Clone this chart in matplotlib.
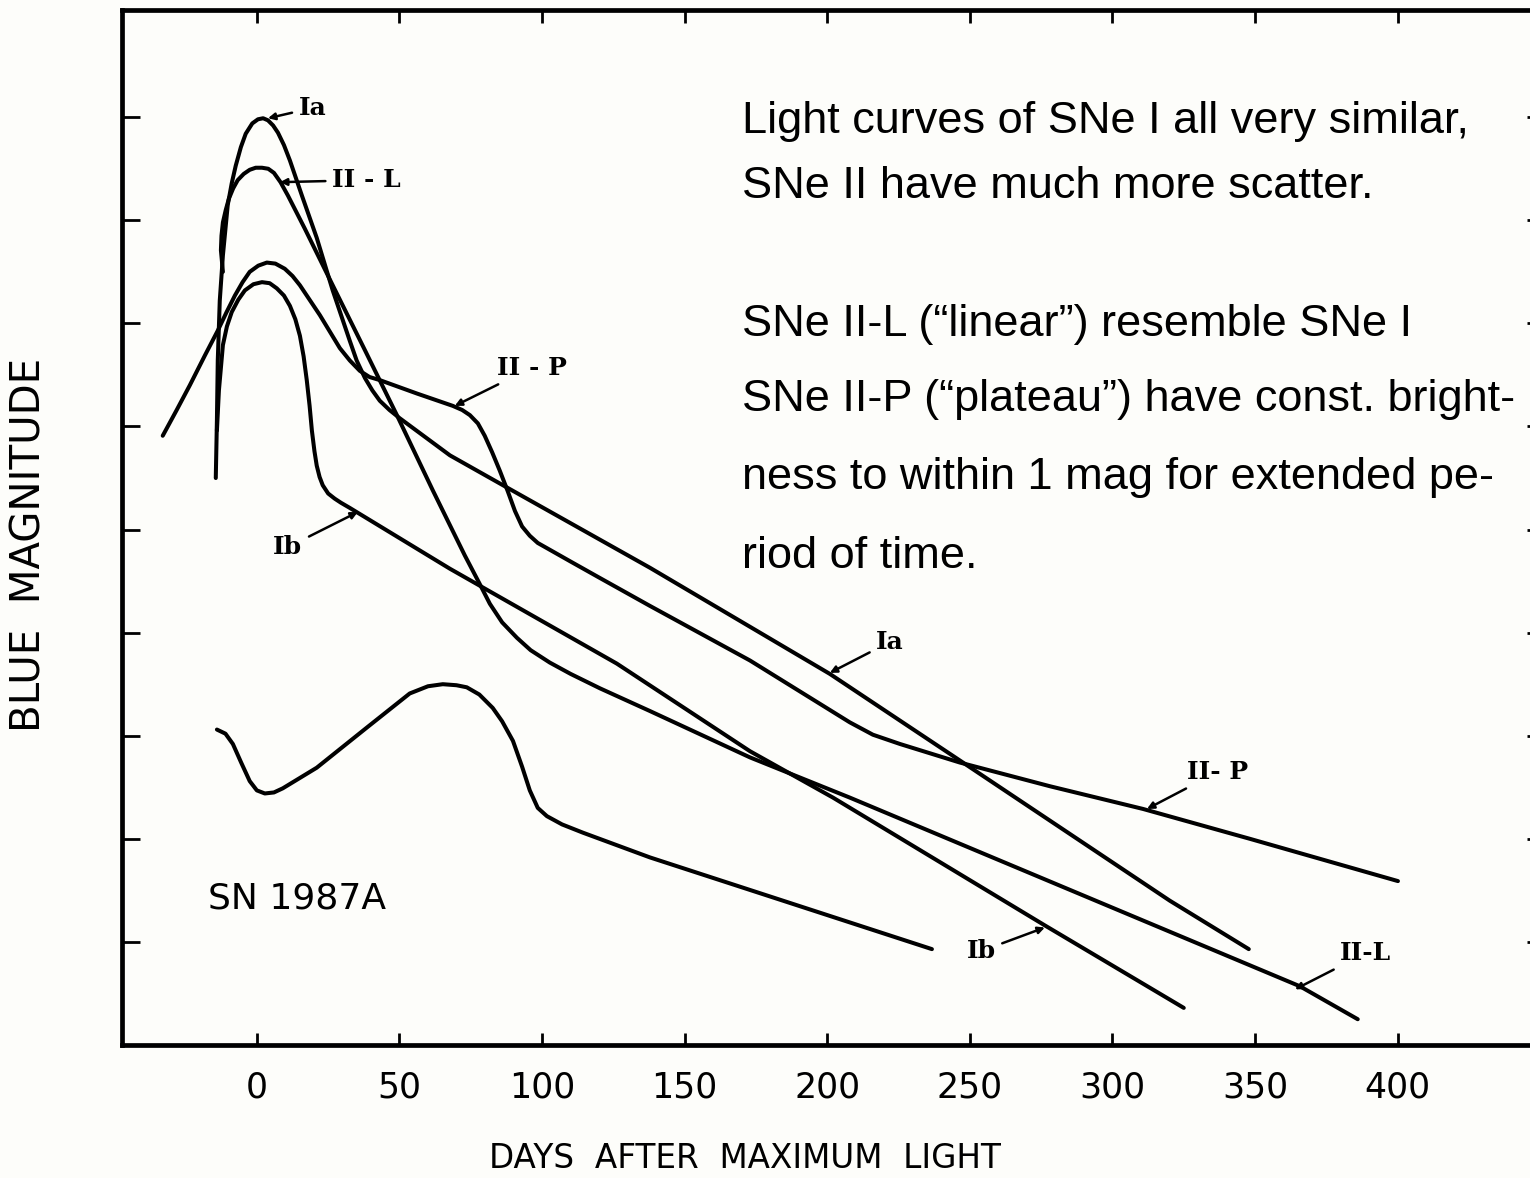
import matplotlib
matplotlib.use('Agg')
import matplotlib.pyplot as plt

# light curves: days after max, relative blue magnitude
ia_days = [-14.4, -14.0, -13.7, -13.0, -11.9, -10.2, -8.8, -7.4, -5.6, -3.9, -1.6, 0.4, 2.2,
           3.9, 5.7, 7.4, 9.5, 11.6, 15.8, 21.0, 26.6, 32.6, 35.0, 37.9, 40.5, 43.1, 46.5,
           50.1, 67.7, 86.3, 137.8, 200.9, 246.5, 320.1, 347.8]
ia_mag = [3.50, 2.94, 2.36, 1.78, 1.34, 0.85, 0.64, 0.47, 0.29, 0.16, 0.06, 0.02, 0.01,
          0.03, 0.08, 0.15, 0.27, 0.42, 0.76, 1.17, 1.68, 2.17, 2.36, 2.53, 2.65, 2.75, 2.84,
          2.92, 3.28, 3.57, 4.37, 5.40, 6.24, 7.60, 8.07]

ib_days = [-14.0, -13.3, -11.9, -10.5, -8.8, -6.5, -4.2, -1.2, 1.8, 4.5, 7.0, 9.5, 11.6,
           13.5, 15.1, 16.4, 17.5, 18.5, 19.3, 20.2, 21.0, 22.0, 23.1, 25.0, 27.3, 29.5,
           32.6, 67.7, 126.2, 172.9, 202.0, 276.3, 325.0]
ib_mag = [3.04, 2.65, 2.21, 2.03, 1.89, 1.77, 1.68, 1.62, 1.60, 1.61, 1.66, 1.73, 1.83,
          1.96, 2.12, 2.32, 2.55, 2.80, 3.04, 3.24, 3.38, 3.49, 3.57, 3.65, 3.70, 3.74,
          3.79, 4.38, 5.30, 6.15, 6.60, 7.84, 8.64]

iil_days = [-11.9, -12.6, -12.4, -11.9, -10.9, -9.8, -8.3, -6.7, -4.6, -2.5, -0.4, 1.8,
            4.0, 6.0, 8.3, 10.9, 16.8, 26.6, 37.9, 49.1, 61.7, 72.9, 78.0, 81.7, 86.0,
            91.2, 96.0, 102.7, 110.0, 120.3, 137.8, 172.9, 207.9, 365.7, 386.0]
iil_mag = [1.50, 1.29, 1.15, 1.02, 0.90, 0.79, 0.69, 0.61, 0.55, 0.51, 0.49, 0.49,
           0.50, 0.54, 0.63, 0.76, 1.08, 1.63, 2.26, 2.89, 3.62, 4.25, 4.52, 4.72, 4.90,
           5.05, 5.17, 5.29, 5.40, 5.54, 5.76, 6.21, 6.60, 8.43, 8.75]

iip_days = [-33.0, -28.1, -23.5, -18.2, -13.7, -10.6, -7.7, -5.0, -2.5, 0.5, 3.5, 6.5, 9.8,
            12.5, 15.1, 22.1, 29.1, 32.6, 36.1, 39.5, 43.1, 56.1, 68.7, 72.0, 74.7, 77.5,
            79.9, 82.5, 85.2, 88.0, 90.5, 93.0, 95.7, 98.5, 101.7, 110.0, 120.3, 137.8,
            172.9, 207.9, 216.0, 225.5, 236.0, 246.5, 278.1, 310.7, 348.2, 400.1]
iip_mag = [3.09, 2.84, 2.60, 2.31, 2.07, 1.89, 1.73, 1.60, 1.50, 1.44, 1.41, 1.42, 1.47,
           1.54, 1.63, 1.92, 2.24, 2.36, 2.46, 2.52, 2.55, 2.68, 2.80, 2.84, 2.89, 2.97,
           3.09, 3.25, 3.43, 3.63, 3.82, 3.97, 4.06, 4.13, 4.18, 4.31, 4.47, 4.74,
           5.27, 5.87, 5.99, 6.08, 6.17, 6.26, 6.49, 6.71, 7.00, 7.41]

sn87_days = [-14.0, -11.0, -8.4, -5.5, -2.5, 0.0, 2.8, 6.0, 9.1, 21.0, 38.6, 53.6, 60.0,
             65.2, 70.0, 73.6, 78.0, 82.7, 86.0, 89.8, 93.0, 95.7, 98.5, 101.7, 107.0,
             114.3, 137.8, 236.7]
sn87_mag = [5.94, 5.98, 6.08, 6.26, 6.44, 6.53, 6.56, 6.55, 6.51, 6.31, 5.92, 5.59, 5.52,
            5.50, 5.51, 5.53, 5.60, 5.73, 5.86, 6.05, 6.30, 6.53, 6.70, 6.78, 6.86,
            6.94, 7.18, 8.07]

xticks = [0, 50, 100, 150, 200, 250, 300, 350, 400]
yticks = [0, 1, 2, 3, 4, 5, 6, 7, 8]

# curve labels: text, text position, arrow tip
curve_labels = [
    ('Ia', (19.6, -0.09), (3.9, 0.01)),
    ('II - L', (38.5, 0.61), (8.1, 0.63)),
    ('II - P', (96.4, 2.43), (69.4, 2.80)),
    ('Ib', (10.9, 4.17), (35.4, 3.83)),
    ('Ia', (222.0, 5.09), (200.9, 5.39)),
    ('II- P', (337.0, 6.35), (312.1, 6.71)),
    ('Ib', (253.9, 8.09), (276.3, 7.86)),
    ('II-L', (388.8, 8.11), (364.0, 8.46)),
]

notes = ['Light curves of SNe I all very similar,',
         'SNe II have much more scatter.',
         'SNe II-L (\u201clinear\u201d) resemble SNe I',
         'SNe II-P (\u201cplateau\u201d) have const. bright-',
         'ness to within 1 mag for extended pe-',
         'riod of time.']
note_y = [0.155, 0.786, 2.12, 2.85, 3.61, 4.37]

bg = '#fdfdfa'
fig = plt.figure(figsize=(15.3, 11.78), dpi=100, facecolor=bg)
ax = fig.add_axes([0.0797, 0.1129, 0.930, 0.8786], facecolor=bg)

for d, m in [(ia_days, ia_mag), (ib_days, ib_mag), (iil_days, iil_mag),
             (iip_days, iip_mag), (sn87_days, sn87_mag)]:
    ax.plot(d, m, color='black', lw=2.9, solid_capstyle='round', solid_joinstyle='round')

for txt, pos, tip in curve_labels:
    ax.annotate(txt, xy=tip, xytext=pos, ha='center', va='center',
                fontsize=18, fontweight='bold', family='DejaVu Serif',
                arrowprops=dict(arrowstyle='-|>', color='black', lw=1.8,
                                mutation_scale=10, shrinkA=3, shrinkB=0))

ax.text(14.0, 7.58, 'SN 1987A', ha='center', va='center', fontsize=26)

for line, y in zip(notes, note_y):
    ax.text(170.1, y, line, ha='left', va='baseline', fontsize=32.5,
            family='Liberation Sans')

ax.set_xlim(-47.3, 451.6)
ax.set_ylim(9.0, -1.04)
ax.set_xticks(xticks)
ax.set_xticklabels([str(t) for t in xticks])
ax.set_yticks(yticks)
ax.set_yticklabels([])
ax.tick_params(axis='x', direction='in', top=True, length=9, width=2, labelsize=25, pad=18)
ax.tick_params(axis='y', direction='in', right=True, length=13, width=2)
for s in ax.spines.values():
    s.set_linewidth(3.4)

fig.text(745 / 1530, 1 - 1158 / 1178, 'DAYS  AFTER  MAXIMUM  LIGHT', ha='center', va='center',
         fontsize=23.5)
fig.text(30 / 1530, 1 - 545 / 1178, 'BLUE  MAGNITUDE', ha='center', va='center',
         rotation=90, fontsize=29)

fig.savefig('out.png', dpi=100, facecolor=bg)
